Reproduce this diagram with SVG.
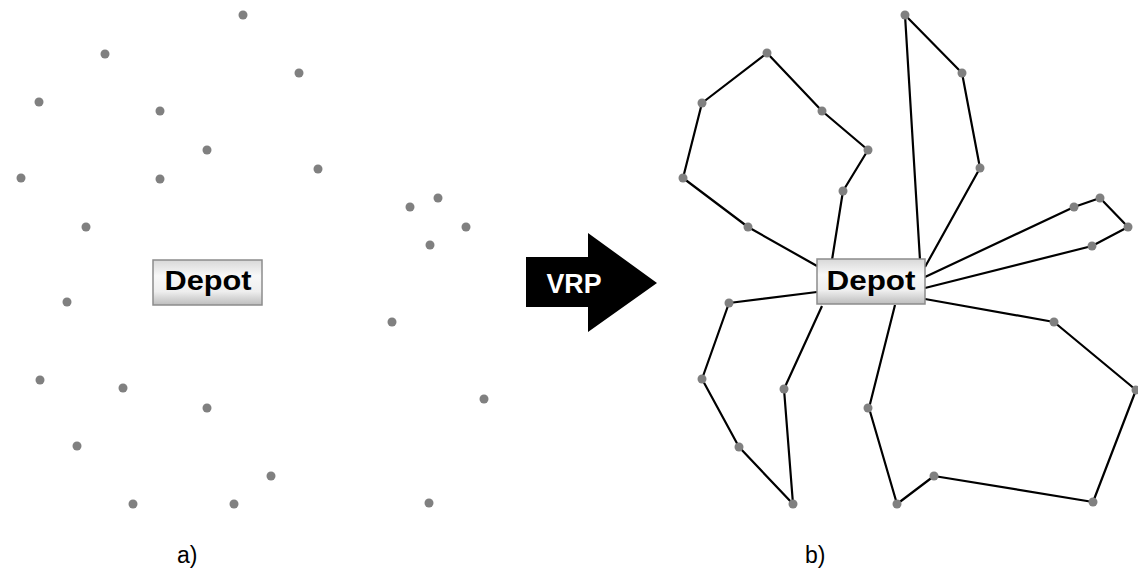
<svg xmlns="http://www.w3.org/2000/svg" width="1138" height="573" viewBox="0 0 1138 573">
<defs>
<linearGradient id="boxg" x1="0" y1="0" x2="0" y2="1">
<stop offset="0" stop-color="#d8d8d8"/>
<stop offset="0.35" stop-color="#f8f8f8"/>
<stop offset="0.7" stop-color="#eeeeee"/>
<stop offset="1" stop-color="#bdbdbd"/>
</linearGradient>
</defs>
<style>
.dot{fill:#808080}
.route{fill:none;stroke:#000;stroke-width:2.2;stroke-linejoin:round}
.box{fill:url(#boxg);stroke:#8c8c8c;stroke-width:1.5}
.dep{font-family:"Liberation Sans",Arial,sans-serif;font-weight:bold;font-size:28px;fill:#000}
.lbl{font-family:"Liberation Sans",Arial,sans-serif;font-size:23px;fill:#000}
.vrp{font-family:"Liberation Sans",Arial,sans-serif;font-weight:bold;font-size:27px;fill:#fff}
</style>
<rect width="1138" height="573" fill="#fff"/>

<g id="customers-a">
<circle class="dot" cx="243" cy="15" r="4.5"/>
<circle class="dot" cx="105" cy="54" r="4.5"/>
<circle class="dot" cx="299" cy="73" r="4.5"/>
<circle class="dot" cx="39" cy="102" r="4.5"/>
<circle class="dot" cx="160" cy="111" r="4.5"/>
<circle class="dot" cx="207" cy="150" r="4.5"/>
<circle class="dot" cx="21" cy="178" r="4.5"/>
<circle class="dot" cx="160" cy="179" r="4.5"/>
<circle class="dot" cx="318" cy="169" r="4.5"/>
<circle class="dot" cx="86" cy="227" r="4.5"/>
<circle class="dot" cx="410" cy="207" r="4.5"/>
<circle class="dot" cx="438" cy="198" r="4.5"/>
<circle class="dot" cx="466" cy="227" r="4.5"/>
<circle class="dot" cx="430" cy="245" r="4.5"/>
<circle class="dot" cx="67" cy="302" r="4.5"/>
<circle class="dot" cx="392" cy="322" r="4.5"/>
<circle class="dot" cx="40" cy="380" r="4.5"/>
<circle class="dot" cx="123" cy="388" r="4.5"/>
<circle class="dot" cx="207" cy="408" r="4.5"/>
<circle class="dot" cx="484" cy="399" r="4.5"/>
<circle class="dot" cx="77" cy="446" r="4.5"/>
<circle class="dot" cx="271" cy="476" r="4.5"/>
<circle class="dot" cx="133" cy="504" r="4.5"/>
<circle class="dot" cx="234" cy="504" r="4.5"/>
<circle class="dot" cx="429" cy="503" r="4.5"/>
</g>

<g id="depot-a">
<rect class="box" x="153" y="260" width="109" height="45"/>
<text class="dep" x="208" y="290" text-anchor="middle" textLength="87" lengthAdjust="spacingAndGlyphs">Depot</text>
</g>

<g id="label-a">
<text class="lbl" x="177" y="563">a)</text>
</g>

<g id="vrp-arrow">
<polygon points="526,257 588,257 588,233 657,283 588,332 588,307 526,307" fill="#000"/>
<text class="vrp" x="574" y="293" text-anchor="middle" textLength="55" lengthAdjust="spacingAndGlyphs">VRP</text>
</g>

<g id="connectors">
<polyline class="route" points="832,260 843,191 868,150 822,111 767,53 702,103 683,178 748,227 817,266"/>
<polyline class="route" points="920,260 905,15 962,73 980,168 925,267"/>
<polyline class="route" points="925,277 1074,207 1100,198 1128,227 1092,246 925,288"/>
<polyline class="route" points="817,292 729,303 702,379 739,447 793,504 784,389 822,306"/>
<polyline class="route" points="925,299 1054,322 1136,390 1093,502 934,476 897,504 869,408 895,305"/>
</g>

<g id="customers-b">
<circle class="dot" cx="767" cy="53" r="4.5"/>
<circle class="dot" cx="702" cy="103" r="4.5"/>
<circle class="dot" cx="822" cy="111" r="4.5"/>
<circle class="dot" cx="868" cy="150" r="4.5"/>
<circle class="dot" cx="683" cy="178" r="4.5"/>
<circle class="dot" cx="843" cy="191" r="4.5"/>
<circle class="dot" cx="748" cy="227" r="4.5"/>
<circle class="dot" cx="905" cy="15" r="4.5"/>
<circle class="dot" cx="962" cy="73" r="4.5"/>
<circle class="dot" cx="980" cy="168" r="4.5"/>
<circle class="dot" cx="1074" cy="207" r="4.5"/>
<circle class="dot" cx="1100" cy="198" r="4.5"/>
<circle class="dot" cx="1128" cy="227" r="4.5"/>
<circle class="dot" cx="1092" cy="246" r="4.5"/>
<circle class="dot" cx="729" cy="303" r="4.5"/>
<circle class="dot" cx="702" cy="379" r="4.5"/>
<circle class="dot" cx="739" cy="447" r="4.5"/>
<circle class="dot" cx="793" cy="504" r="4.5"/>
<circle class="dot" cx="784" cy="389" r="4.5"/>
<circle class="dot" cx="868" cy="408" r="4.5"/>
<circle class="dot" cx="897" cy="504" r="4.5"/>
<circle class="dot" cx="934" cy="476" r="4.5"/>
<circle class="dot" cx="1093" cy="502" r="4.5"/>
<circle class="dot" cx="1054" cy="322" r="4.5"/>
<circle class="dot" cx="1136" cy="390" r="4.5"/>
</g>

<g id="depot-b">
<rect class="box" x="817" y="259" width="108" height="45"/>
<text class="dep" x="871" y="290" text-anchor="middle" textLength="89" lengthAdjust="spacingAndGlyphs">Depot</text>
</g>

<g id="label-b">
<text class="lbl" x="805" y="563">b)</text>
</g>
</svg>
